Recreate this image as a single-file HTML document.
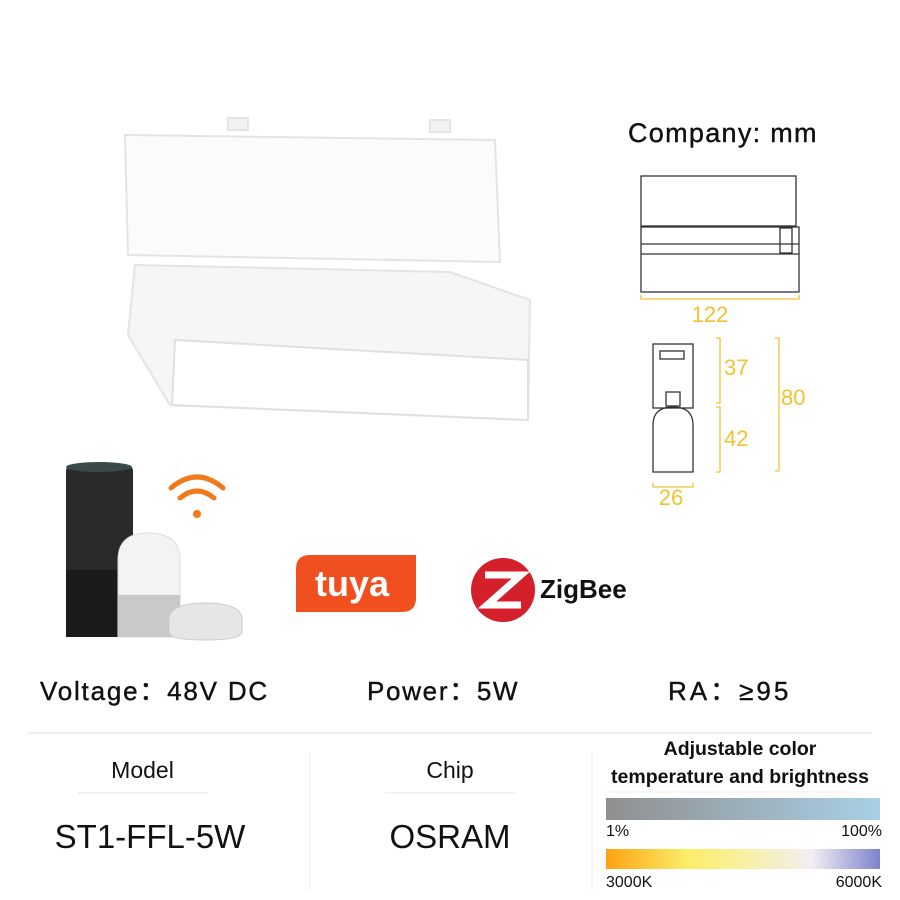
<!DOCTYPE html><html><head><style>
body{margin:0;width:900px;height:900px;background:#fff;position:relative;overflow:hidden;font-family:"Liberation Sans",sans-serif;color:#111}
.t{position:absolute;white-space:nowrap}
.s{-webkit-text-stroke:0.4px #111;letter-spacing:1.6px}
</style></head><body>
<svg width="900" height="900" style="position:absolute;left:0;top:0">
<g fill="#fff" stroke="#e4e4e6" stroke-width="2">
<path d="M125 135 L495 140 L500 262 L128 255 Z" fill="#fbfbfb"/>
<path d="M135 265 L450 272 L530 300 L528 420 L170 405 L128 335 Z" fill="#f6f6f7"/>
<path d="M175 340 L528 360 L528 420 L172 405 Z" fill="#fff" stroke="#e0e0e2"/>
<rect x="228" y="118" width="20" height="12" fill="#f2f2f2"/><rect x="430" y="120" width="20" height="12" fill="#f2f2f2"/>
</g>
<g fill="none" stroke="#333" stroke-width="1.3">
<rect x="641" y="176" width="155" height="50"/>
<rect x="641" y="227" width="158" height="65"/>
<line x1="641" y1="244" x2="799" y2="244"/><line x1="641" y1="254" x2="799" y2="254"/>
<rect x="780" y="228" width="12" height="25"/>
<rect x="653" y="344" width="40" height="64"/><rect x="660" y="351" width="24" height="8"/>
<rect x="666" y="392" width="14" height="14"/>
<path d="M653 472 L653 425 Q653 407 673 407 Q693 407 693 425 L693 472 Z"/>
</g>
<g fill="none" stroke="#f2c230" stroke-width="1.3">
<path d="M641 295 v4 h158 v-4"/><path d="M653 483 v4 h40 v-4"/>
<path d="M716 338 h4 v65 h-4"/><path d="M716 407 h4 v65 h-4"/><path d="M775 338 h4 v133 h-4"/>
</g>
<g fill="#f2c230" font-size="22" font-family="Liberation Sans">
<text x="710" y="322" text-anchor="middle">122</text><text x="724" y="375">37</text><text x="724" y="446">42</text><text x="781" y="405">80</text><text x="671" y="505" text-anchor="middle">26</text></g>
<rect x="66" y="465" width="67" height="172" rx="6" fill="#2a2a2a"/>
<ellipse cx="99" cy="467" rx="33" ry="5" fill="#3a4a4a"/>
<rect x="66" y="570" width="67" height="67" fill="#1b1b1b"/>
<path d="M118 560 Q118 533 148 533 Q180 533 180 560 L180 637 L118 637 Z" fill="#f3f3f3" stroke="#ddd"/>
<rect x="118" y="595" width="62" height="42" fill="#c9c9c9"/>
<path d="M169 620 Q169 603 205 603 Q242 603 242 620 L242 632 Q242 640 205 640 Q169 640 169 632 Z" fill="#e6e6e6" stroke="#ccc"/>
<g fill="none" stroke="#f07a1a" stroke-width="5" stroke-linecap="round">
<path d="M171 488 Q197 466 223 488"/><path d="M180 498 Q197 484 214 498"/></g>
<circle cx="197" cy="514" r="4" fill="#f07a1a"/>
<path d="M310 555 H416 V598 Q416 612 402 612 H296 V569 Q296 555 310 555Z" fill="#f0501f"/>
<text x="352" y="596" fill="#fff" font-size="36" font-weight="bold" text-anchor="middle" font-family="Liberation Sans">tuya</text>
<circle cx="503" cy="590" r="32" fill="#d3202a"/>
<path d="M485 575 H521 L487 605 H521" stroke="#fff" stroke-width="7" fill="none"/>
<line x1="28" y1="733" x2="872" y2="733" stroke="#ececec" stroke-width="1.5"/>
<line x1="310" y1="752" x2="310" y2="890" stroke="#ececec"/>
<line x1="592" y1="752" x2="592" y2="890" stroke="#ececec"/>
<line x1="78" y1="793" x2="208" y2="793" stroke="#e6e6e6"/>
<line x1="385" y1="793" x2="515" y2="793" stroke="#e6e6e6"/>
<line x1="606" y1="792" x2="852" y2="792" stroke="#eee"/>
<defs><linearGradient id="g1"><stop offset="0" stop-color="#8f8f8f"/><stop offset="1" stop-color="#a9d0e6"/></linearGradient>
<linearGradient id="g2"><stop offset="0" stop-color="#fca311"/><stop offset=".3" stop-color="#fbee6a"/><stop offset=".5" stop-color="#f8f0a0"/><stop offset=".75" stop-color="#f2eef2"/><stop offset="1" stop-color="#7c83cc"/></linearGradient></defs>
<rect x="606" y="798" width="274" height="22" fill="url(#g1)"/>
<rect x="606" y="849" width="274" height="20" fill="url(#g2)"/>
</svg>
<div class="t s" style="left:628px;top:118px;font-size:27px;letter-spacing:1.3px">Company: mm</div>
<div class="t" style="left:540px;top:574px;font-size:26px;font-weight:bold">ZigBee</div>
<div class="t s" style="left:40px;top:671px;font-size:26px;letter-spacing:1.8px">Voltage：48V DC</div>
<div class="t s" style="left:367px;top:671px;font-size:26px;letter-spacing:1.7px">Power：5W</div>
<div class="t s" style="left:668px;top:671px;font-size:26px;letter-spacing:3px">RA：≥95</div>
<div class="t" style="left:0;width:285px;text-align:center;top:757px;font-size:23px">Model</div>
<div class="t" style="left:0;width:300px;text-align:center;top:818px;font-size:33px">ST1-FFL-5W</div>
<div class="t" style="left:300px;width:300px;text-align:center;top:757px;font-size:23px">Chip</div>
<div class="t" style="left:300px;width:300px;text-align:center;top:818px;font-size:33px">OSRAM</div>
<div class="t" style="left:600px;width:280px;text-align:center;top:738px;font-size:19.5px;font-weight:bold">Adjustable color</div>
<div class="t" style="left:600px;width:280px;text-align:center;top:766px;font-size:19.5px;font-weight:bold">temperature and brightness</div>
<div class="t" style="left:606px;top:823px;font-size:16px">1%</div>
<div class="t" style="right:18px;top:823px;font-size:16px">100%</div>
<div class="t" style="left:606px;top:874px;font-size:16px">3000K</div>
<div class="t" style="right:18px;top:874px;font-size:16px">6000K</div>
</body></html>
